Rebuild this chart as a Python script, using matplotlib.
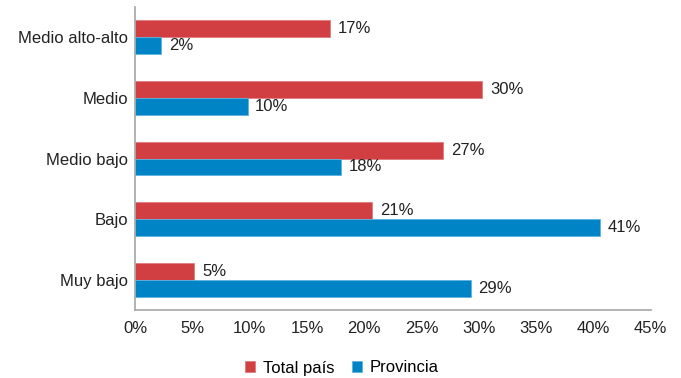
import matplotlib
matplotlib.use("Agg")
import matplotlib.pyplot as plt
import numpy as np

categories = ["Muy bajo", "Bajo", "Medio bajo", "Medio", "Medio alto-alto"]
total_pais = [5.15, 20.7, 26.9, 30.3, 16.98]
provincia = [29.3, 40.6, 17.96, 9.8, 2.27]
series_names = ["Total país", "Provincia"]
xticks = [0, 5, 10, 15, 20, 25, 30, 35, 40, 45]

red = "#D13F42"
blue = "#0084C6"
fs = 12

plt.rcParams['font.family'] = ['Liberation Sans', 'DejaVu Sans']

fig = plt.figure(figsize=(6.81, 3.78), dpi=100)
ax = fig.add_axes([135.3/681, 1-310/378, (650.7-135.3)/681, (310-7)/378])

y = np.arange(len(categories))
h = 0.28
b1 = ax.barh(y + h/2, total_pais, height=h, color=red, edgecolor="#E27C7E", linewidth=0.6, label=series_names[0])
b2 = ax.barh(y - h/2, provincia, height=h, color=blue, edgecolor="#5DB3DE", linewidth=0.6, label=series_names[1])

for bars, vals in ((b1, total_pais), (b2, provincia)):
    for rect, v in zip(bars, vals):
        ax.annotate(f"{round(v):.0f}%", (rect.get_width(), rect.get_y() + rect.get_height()/2),
                    xytext=(5.5, 0), textcoords="offset points", va="center", ha="left",
                    fontsize=fs, color="#222222")

ax.set_xlim(0, 45)
ax.set_ylim(-0.5, len(categories) - 0.5)
ax.set_xticks(xticks)
ax.set_xticklabels([f"{t}%" for t in xticks], fontsize=fs, color="#222222")
ax.set_yticks(y)
ax.set_yticklabels(categories, fontsize=fs, color="#222222")
ax.tick_params(axis="both", length=0)
ax.tick_params(axis="x", pad=8)
ax.tick_params(axis="y", pad=5)
for s in ("top", "right"):
    ax.spines[s].set_visible(False)
for s in ("left", "bottom"):
    ax.spines[s].set_color("#A6A6A6")
    ax.spines[s].set_linewidth(1.2)

fig.legend(handles=[b1, b2], labels=series_names, loc="center", bbox_to_anchor=(342/681, 1-368/378),
           ncol=2, frameon=False, fontsize=fs, handlelength=0.6, handleheight=0.6,
           handletextpad=0.5, columnspacing=1.0)

fig.savefig("out.png", dpi=100)
